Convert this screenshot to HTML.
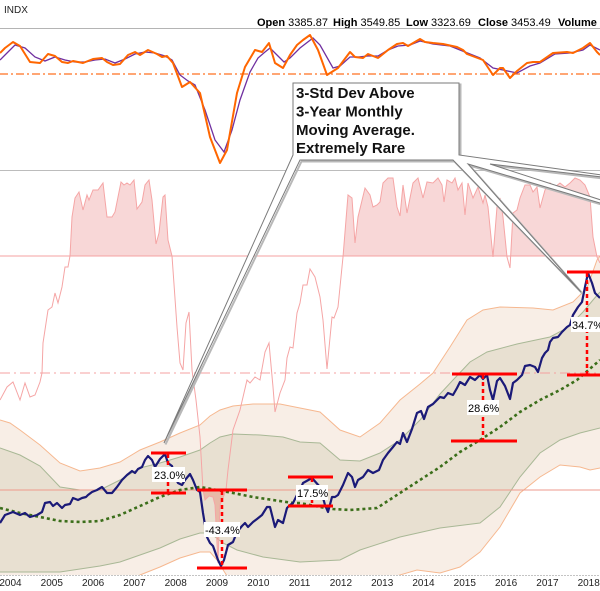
<!DOCTYPE html>
<html><head><meta charset="utf-8"><style>
html,body{margin:0;padding:0;background:#fff;}
svg{display:block;}
text{font-family:"Liberation Sans",Arial,sans-serif;}
</style></head><body>
<svg width="600" height="591" viewBox="0 0 600 591" xmlns="http://www.w3.org/2000/svg">
<defs>
<clipPath id="plot"><rect x="0" y="170" width="600" height="405"/></clipPath>
<clipPath id="top"><rect x="0" y="29" width="600" height="141"/></clipPath>
<clipPath id="above"><rect x="0" y="170" width="600" height="86"/></clipPath>
<clipPath id="below"><rect x="0" y="490" width="600" height="85"/></clipPath>
</defs>
<rect width="600" height="591" fill="#fff"/>

<!-- header -->
<text x="4" y="13" font-size="10" fill="#222">INDX</text>
<g font-size="11" fill="#000">
<text x="257" y="26"><tspan font-weight="bold">Open</tspan> 3385.87</text>
<text x="333" y="26"><tspan font-weight="bold">High</tspan> 3549.85</text>
<text x="406" y="26"><tspan font-weight="bold">Low</tspan> 3323.69</text>
<text x="478" y="26"><tspan font-weight="bold">Close</tspan> 3453.49</text>
<text x="558" y="26"><tspan font-weight="bold">Volume</tspan></text>
</g>
<line x1="0" y1="28.5" x2="600" y2="28.5" stroke="#b4b4b4" stroke-width="1"/>

<!-- top panel -->
<g clip-path="url(#top)">
<line x1="0" y1="74" x2="600" y2="74" stroke="#ff7020" stroke-width="1.2" stroke-dasharray="8 3 2 3"/>
<polyline fill="none" stroke="#7030a0" stroke-width="1.3" points="0,60 5,55 15,45 25,48 35,57 45,61 55,57 65,60 75,62 85,62 95,60 105,59 115,63 125,59 135,54 145,52 155,53 165,56 172,60 180,75 188,81 195,85 205,110 215,140 224,152 232,130 240,100 250,72 258,58 265,52 270,48 278,56 284,62 290,58 300,48 313,38 320,45 333,68 340,66 350,57 358,57 368,56 378,56 388,50 398,46 410,45 420,41 433,44 450,46 465,52 480,58 493,68 503,70 517,73 530,66 540,63 555,54 570,53 583,50 590,45 600,50"/>
<polyline fill="none" stroke="#ff6600" stroke-width="2" stroke-linejoin="round" points="0,53 5,48 13,42 20,46 30,62 40,63 48,54 55,56 62,62 68,63 73,61 83,63 93,59 102,58 107,62 113,65 120,64 128,55 135,52 140,55 148,50 157,54 162,57 167,56 173,63 182,87 190,82 200,93 210,137 220,163 227,150 237,93 245,67 255,50 262,52 269,43 275,63 283,68 290,55 297,45 303,40 310,35 318,50 327,75 338,68 350,52 355,57 363,58 368,54 378,58 388,50 397,44 403,43 408,46 420,39 425,42 433,43 443,44 457,47 463,50 467,54 483,60 493,75 500,68 503,68 510,78 517,71 527,63 533,62 540,62 553,53 567,52 573,53 583,48 590,43 597,52 600,55"/>
</g>
<line x1="0" y1="170.5" x2="600" y2="170.5" stroke="#bcbcbc" stroke-width="1"/>

<!-- main plot -->
<g clip-path="url(#plot)">
<!-- outer band -->
<polygon fill="#f8eee6" stroke="none" points="0,420 10,423 20,430 40,445 60,463 80,471 100,468 120,462 140,450 160,442 180,433 200,425 210,416 220,410 233,406 253,404 280,404 300,408 320,412 340,430 360,437 380,423 400,400 420,384 433,373 450,347 467,320 483,310 500,307 533,308 553,310 573,302 587,288 597,260 600,256 600,468 590,470 580,467 560,465 540,477 520,493 500,527 480,552 460,567 440,573 417,570 393,577 380,600 240,600 227,576 217,560 210,552 200,552 180,558 160,567 140,575 120,590 0,600"/>
<!-- inner band -->
<polygon fill="#e8e0d1" stroke="none" points="0,448 20,455 40,466 60,487 80,490 100,490 120,480 140,468 160,463 180,457 200,450 210,443 220,437 233,434 260,435 283,437 300,442 320,443 340,460 360,461 380,453 400,440 420,420 440,394 453,380 470,362 487,352 517,344 550,337 567,328 583,312 593,300 600,292 600,428 580,433 560,440 540,453 520,477 500,507 480,523 440,528 400,537 360,550 340,560 300,562 263,557 237,550 223,543 210,533 200,533 180,539 160,548 140,555 120,562 100,566 60,572 0,572"/>
<!-- band lines -->
<g fill="none" stroke-width="1">
<polyline stroke="#f6b890" points="0,420 10,423 20,430 40,445 60,463 80,471 100,468 120,462 140,450 160,442 180,433 200,425 210,416 220,410 233,406 253,404 280,404 300,408 320,412 340,430 360,437 380,423 400,400 420,384 433,373 450,347 467,320 483,310 500,307 533,308 553,310 573,302 587,288 597,260 600,256"/>
<polyline stroke="#f6b890" points="600,468 590,470 580,467 560,465 540,477 520,493 500,527 480,552 460,567 440,573 417,570 393,577 380,600 240,600 227,576 217,560 210,552 200,552 180,558 160,567 140,575 120,590 0,600"/>
<polyline stroke="#a9b896" points="0,448 20,455 40,466 60,487 80,490 100,490 120,480 140,468 160,463 180,457 200,450 210,443 220,437 233,434 260,435 283,437 300,442 320,443 340,460 360,461 380,453 400,440 420,420 440,394 453,380 470,362 487,352 517,344 550,337 567,328 583,312 593,300 600,292"/>
<polyline stroke="#a9b896" points="600,428 580,433 560,440 540,453 520,477 500,507 480,523 440,528 400,537 360,550 340,560 300,562 263,557 237,550 223,543 210,533 200,533 180,539 160,548 140,555 120,562 100,566 60,572 0,572"/>
</g>

<!-- indicator fills -->
<g clip-path="url(#above)">
<polygon fill="#f8d7d7" points="0,256 0,400 7,387 13,382 20,400 25,383 30,397 35,395 40,382 42,373 43,343 48,310 52,307 55,293 58,303 62,287 65,267 68,267 70,256 72,217 75,198 79,192 83,210 87,195 89,200 93,190 98,190 103,183 107,217 112,217 115,212 121,182 124,185 127,183 130,185 134,180 137,209 142,202 145,185 149,180 152,200 156,244 159,233 163,197 165,195 168,240 172,256 173,270 177,327 180,363 183,370 186,323 189,312 192,370 196,400 200,437 203,490 205,500 209,496 213,497 215,505 218,563 220,505 223,498 226,490 228,470 233,430 240,410 247,380 250,383 255,377 260,380 265,352 269,343 273,387 275,412 280,393 285,380 287,358 290,347 293,348 297,313 300,303 303,285 307,285 310,269 315,277 320,297 323,320 327,369 332,317 334,318 338,307 343,257 348,195 352,198 355,243 358,217 365,188 370,195 373,207 377,205 380,202 383,183 388,178 393,178 397,207 400,216 403,185 407,213 413,183 418,178 423,198 427,182 433,183 438,178 442,185 444,202 447,180 452,183 455,178 458,190 462,183 465,215 468,183 473,198 478,187 483,203 485,195 488,207 493,257 497,207 500,198 503,217 507,257 510,268 513,213 517,210 520,198 525,185 530,185 533,192 537,187 540,208 545,190 550,183 555,187 560,183 565,187 570,183 575,178 580,180 585,185 590,197 593,237 597,257 600,263 600,256"/>
</g>
<g clip-path="url(#below)">
<polygon fill="rgba(232,120,100,0.38)" points="196,490 196,400 200,437 203,490 205,500 209,496 213,497 215,505 218,563 220,505 223,498 226,490 228,470 228,490"/>
</g>

<!-- threshold lines -->
<line x1="0" y1="256" x2="600" y2="256" stroke="#f4a0a0" stroke-width="1"/>
<line x1="0" y1="373" x2="600" y2="373" stroke="#f4a0a0" stroke-width="1" stroke-dasharray="10 4 2 4"/>
<line x1="0" y1="490" x2="600" y2="490" stroke="#ee9a8c" stroke-width="1"/>

<!-- indicator line -->
<polyline fill="none" stroke="#f5a5a5" stroke-width="1" points="0,400 7,387 13,382 20,400 25,383 30,397 35,395 40,382 42,373 43,343 48,310 52,307 55,293 58,303 62,287 65,267 68,267 70,256 72,217 75,198 79,192 83,210 87,195 89,200 93,190 98,190 103,183 107,217 112,217 115,212 121,182 124,185 127,183 130,185 134,180 137,209 142,202 145,185 149,180 152,200 156,244 159,233 163,197 165,195 168,240 172,256 173,270 177,327 180,363 183,370 186,323 189,312 192,370 196,400 200,437 203,490 205,500 209,496 213,497 215,505 218,563 220,505 223,498 226,490 228,470 233,430 240,410 247,380 250,383 255,377 260,380 265,352 269,343 273,387 275,412 280,393 285,380 287,358 290,347 293,348 297,313 300,303 303,285 307,285 310,269 315,277 320,297 323,320 327,369 332,317 334,318 338,307 343,257 348,195 352,198 355,243 358,217 365,188 370,195 373,207 377,205 380,202 383,183 388,178 393,178 397,207 400,216 403,185 407,213 413,183 418,178 423,198 427,182 433,183 438,178 442,185 444,202 447,180 452,183 455,178 458,190 462,183 465,215 468,183 473,198 478,187 483,203 485,195 488,207 493,257 497,207 500,198 503,217 507,257 510,268 513,213 517,210 520,198 525,185 530,185 533,192 537,187 540,208 545,190 550,183 555,187 560,183 565,187 570,183 575,178 580,180 585,185 590,197 593,237 597,257 600,263"/>

<!-- moving average -->
<polyline fill="none" stroke="#3b6e1a" stroke-width="2.6" stroke-dasharray="3 3" points="0,508 20,513 40,517 60,521 80,522 100,521 120,515 140,506 160,497 180,490 200,487 217,490 233,493 253,497 273,500 293,503 300,503 320,507 333,509 350,510 377,508 400,493 420,480 440,467 460,452 480,440 500,427 520,412 540,400 560,390 577,380 600,360"/>

<!-- price -->
<polyline fill="none" stroke="#1b1a78" stroke-width="2.2" stroke-linejoin="round" points="0,523 5,515 13,512 20,515 25,513 30,517 37,515 42,512 45,503 50,502 53,506 57,503 62,508 65,505 70,504 73,498 78,500 82,498 86,497 88,495 92,492 97,490 102,487 107,493 112,493 117,487 122,480 127,475 132,471 135,473 138,469 142,467 145,460 148,456 152,460 155,467 160,459 165,454 168,463 172,466 175,477 178,483 182,485 185,480 190,474 193,480 197,490 200,492 203,513 207,537 210,543 213,546 218,560 221,566 224,560 228,545 233,542 237,532 242,526 245,523 248,527 253,522 257,519 262,515 267,507 270,507 275,527 278,520 283,523 287,508 290,505 293,503 297,495 300,490 303,483 312,478 320,487 325,505 328,512 332,497 335,497 338,495 343,485 348,473 352,477 355,487 358,480 363,477 368,470 373,473 379,470 383,460 388,453 393,447 397,442 400,444 403,433 407,442 412,429 417,413 421,411 424,419 428,407 433,404 440,397 444,398 448,393 453,395 457,388 460,382 465,385 470,377 475,380 480,375 483,379 487,375 490,390 493,400 497,381 500,378 505,386 510,399 513,383 517,380 522,375 525,366 530,365 535,367 538,372 542,358 545,353 548,350 550,342 553,338 558,337 562,332 567,327 570,325 573,315 578,307 582,302 585,287 588,273 592,283 595,293 600,298"/>

<!-- red annotations -->
<g stroke="#ff0000" stroke-width="3" fill="none">
<line x1="151" y1="453" x2="186" y2="453"/><line x1="151" y1="493" x2="186" y2="493"/>
<line x1="197" y1="490" x2="247" y2="490"/><line x1="197" y1="568" x2="247" y2="568"/>
<line x1="288" y1="477" x2="333" y2="477"/><line x1="288" y1="506" x2="333" y2="506"/>
<line x1="452" y1="374" x2="517" y2="374"/><line x1="451" y1="441" x2="517" y2="441"/>
<line x1="567" y1="272" x2="600" y2="272"/><line x1="567" y1="375" x2="600" y2="375"/>
</g>
<g stroke="#ff0000" stroke-width="2.5" stroke-dasharray="4 3" fill="none">
<line x1="168" y1="454" x2="168" y2="492"/>
<line x1="222" y1="491" x2="222" y2="567"/>
<line x1="312" y1="478" x2="312" y2="505"/>
<line x1="483" y1="375" x2="483" y2="440"/>
<line x1="587" y1="273" x2="587" y2="374"/>
</g>
<g font-size="11" fill="#000">
<rect x="152" y="467" width="33" height="15" fill="#fff"/><text x="154" y="479">23.0%</text>
<rect x="204" y="522" width="36" height="15" fill="#fff"/><text x="205" y="534">-43.4%</text>
<rect x="296" y="485" width="32" height="15" fill="#fff"/><text x="297" y="497">17.5%</text>
<rect x="467" y="400" width="32" height="15" fill="#fff"/><text x="468" y="412">28.6%</text>
<rect x="571" y="317" width="32" height="15" fill="#fff"/><text x="572" y="329">34.7%</text>
</g>
</g>

<!-- callout -->
<polygon fill="none" stroke="#b8b8b8" stroke-width="2" transform="translate(1.5,1.5)" points="293,83 459,83 459,155 680,186 490,164 715,237 468,164 581,292 453,160 300,160 164,443 293,155"/>
<polygon fill="#fff" stroke="#7a7a7a" stroke-width="1" stroke-linejoin="miter" points="293,83 459,83 459,155 680,186 490,164 715,237 468,164 581,292 453,160 300,160 164,443 293,155"/>
<g font-size="15" font-weight="bold" fill="#111">
<text x="296" y="98">3-Std Dev Above</text>
<text x="296" y="116.5">3-Year Monthly</text>
<text x="296" y="135">Moving Average.</text>
<text x="296" y="153">Extremely Rare</text>
</g>

<!-- x axis -->
<line x1="0" y1="575.5" x2="600" y2="575.5" stroke="#c4c4c4" stroke-width="1" stroke-dasharray="2 1"/>
<g font-size="10" fill="#222" text-anchor="middle">
<text x="10.5" y="586">2004</text>
<text x="51.8" y="586">2005</text>
<text x="93.1" y="586">2006</text>
<text x="134.4" y="586">2007</text>
<text x="175.7" y="586">2008</text>
<text x="217" y="586">2009</text>
<text x="258.3" y="586">2010</text>
<text x="299.6" y="586">2011</text>
<text x="340.9" y="586">2012</text>
<text x="382.2" y="586">2013</text>
<text x="423.5" y="586">2014</text>
<text x="464.8" y="586">2015</text>
<text x="506.1" y="586">2016</text>
<text x="547.4" y="586">2017</text>
<text x="588.7" y="586">2018</text>
</g>
</svg>
</body></html>
